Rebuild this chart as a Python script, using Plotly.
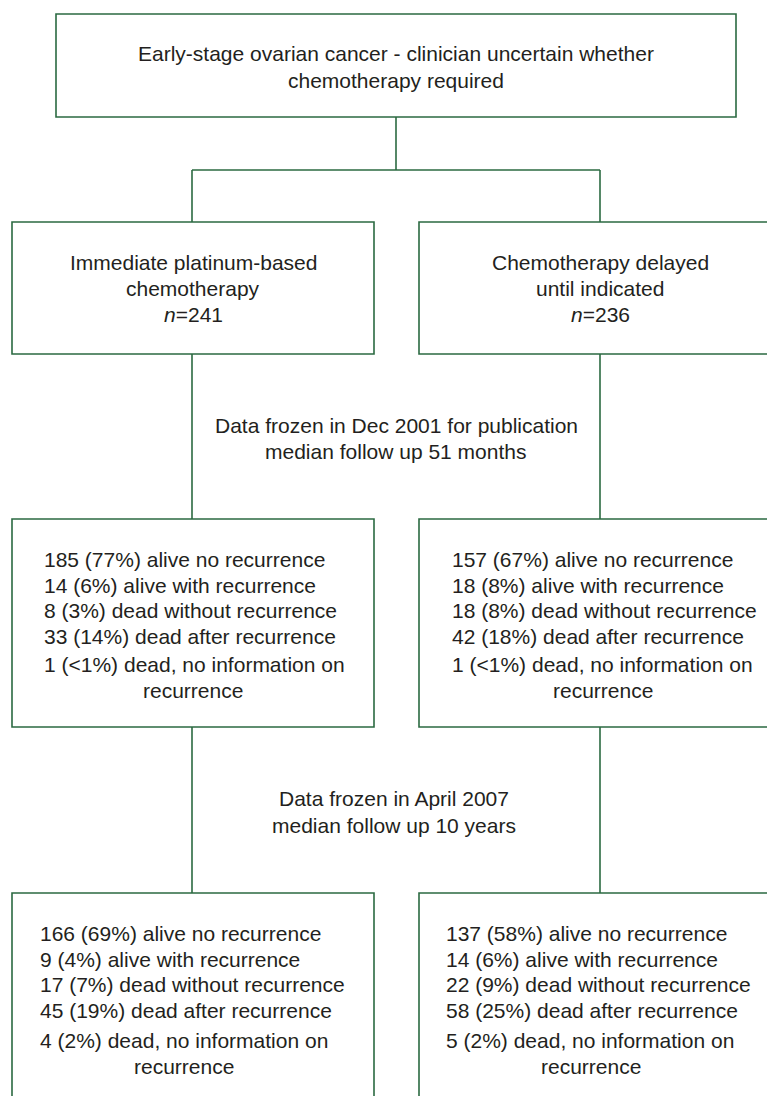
import plotly.graph_objects as go

# ---- data (text content) ----
top_lines = ["Early-stage ovarian cancer - clinician uncertain whether",
             "chemotherapy required"]
arm_left_lines = ["Immediate platinum-based", "chemotherapy", "<i>n</i>=241"]
arm_right_lines = ["Chemotherapy delayed", "until indicated", "<i>n</i>=236"]
freeze1_lines = ["Data frozen in Dec 2001 for publication",
                 "median follow up 51 months"]
freeze2_lines = ["Data frozen in April 2007", "median follow up 10 years"]
res2001_left = ["185 (77%) alive no recurrence", "14 (6%) alive with recurrence",
                "8 (3%) dead without recurrence", "33 (14%) dead after recurrence",
                "1 (<1%) dead, no information on"]
res2001_right = ["157 (67%) alive no recurrence", "18 (8%) alive with recurrence",
                 "18 (8%) dead without recurrence", "42 (18%) dead after recurrence",
                 "1 (<1%) dead, no information on"]
res2007_left = ["166 (69%) alive no recurrence", "9 (4%) alive with recurrence",
                "17 (7%) dead without recurrence", "45 (19%) dead after recurrence",
                "4 (2%) dead, no information on"]
res2007_right = ["137 (58%) alive no recurrence", "14 (6%) alive with recurrence",
                 "22 (9%) dead without recurrence", "58 (25%) dead after recurrence",
                 "5 (2%) dead, no information on"]
continuation = "recurrence"

# ---- style ----
LINE = "#2b6a41"
TXT = "#231f20"
FONT = "Liberation Sans, Arial, Helvetica, sans-serif"
FS = 21
W, H = 767, 1096

fig = go.Figure()
shapes = []
annots = []


def box(x0, y0, x1, y1):
    shapes.append(dict(type="rect", xref="x", yref="y", x0=x0, y0=y0, x1=x1, y1=y1,
                       line=dict(color=LINE, width=1.6), fillcolor="rgba(0,0,0,0)"))


def seg(x0, y0, x1, y1):
    shapes.append(dict(type="line", xref="x", yref="y", x0=x0, y0=y0, x1=x1, y1=y1,
                       line=dict(color=LINE, width=1.6)))


def text(x, y, s, anchor="center"):
    annots.append(dict(x=x, y=y, xref="x", yref="y", text=s, showarrow=False,
                       xanchor=anchor, yanchor="middle",
                       font=dict(family=FONT, size=FS, color=TXT)))


def lines_at(x, ys, items, anchor="center"):
    for yy, s in zip(ys, items):
        text(x, yy, s, anchor)


# boxes
box(56, 14, 736, 117)
box(12, 222, 374, 354)
box(419, 222, 781, 354)
box(12, 519, 374, 727)
box(419, 519, 781, 727)
box(12, 893, 374, 1120)
box(419, 893, 781, 1120)

# connectors
seg(396, 117, 396, 170)
seg(192, 170, 600, 170)
seg(192, 170, 192, 222)
seg(600, 170, 600, 222)
seg(192, 354, 192, 519)
seg(600, 354, 600, 519)
seg(192, 727, 192, 893)
seg(600, 727, 600, 893)

# texts
lines_at(396, [53, 80], top_lines)
lines_at(193, [262, 288, 314], arm_left_lines)
lines_at(600, [262, 288, 314], arm_right_lines)
lines_at(396, [425, 451], freeze1_lines)
lines_at(42, [559, 585, 610, 636, 664], res2001_left, "left")
lines_at(450, [559, 585, 610, 636, 664], res2001_right, "left")
text(193, 690, continuation)
text(603, 690, continuation)
lines_at(394, [798, 825], freeze2_lines)
lines_at(38, [933, 959, 984, 1010, 1040], res2007_left, "left")
lines_at(444, [933, 959, 984, 1010, 1040], res2007_right, "left")
text(184, 1066, continuation)
text(591, 1066, continuation)

fig.update_layout(
    width=W, height=H,
    margin=dict(l=0, r=0, t=0, b=0),
    paper_bgcolor="white", plot_bgcolor="white",
    xaxis=dict(range=[0, W], visible=False, fixedrange=True),
    yaxis=dict(range=[H, 0], visible=False, fixedrange=True),
    shapes=shapes, annotations=annots, showlegend=False,
)
fig.write_html("out.html", config={"displayModeBar": False},
               post_script="document.body.style.margin='0';document.body.style.overflow='hidden';")
